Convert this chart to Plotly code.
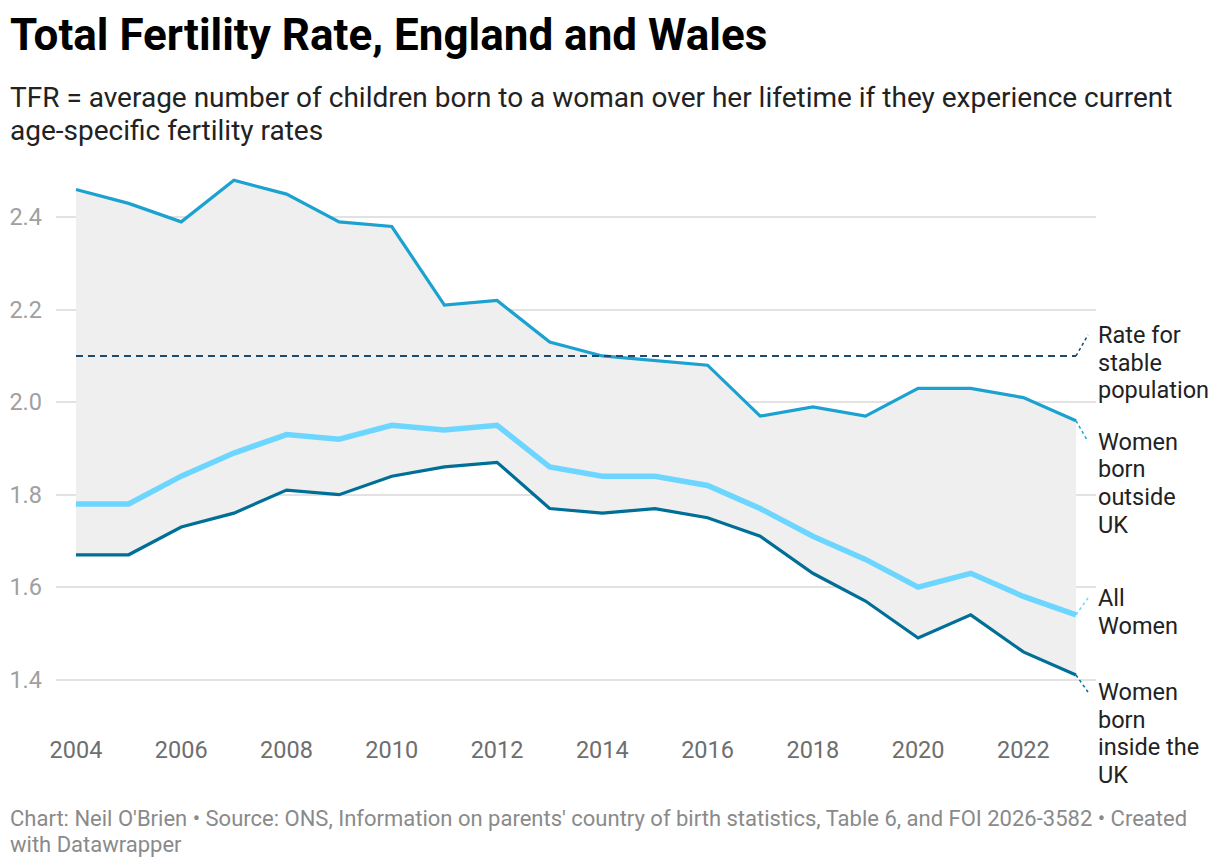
import plotly.graph_objects as go

years = list(range(2004, 2024))
outside_uk = [2.46, 2.43, 2.39, 2.48, 2.45, 2.39, 2.38, 2.21, 2.22, 2.13,
              2.10, 2.09, 2.08, 1.97, 1.99, 1.97, 2.03, 2.03, 2.01, 1.96]
all_women = [1.78, 1.78, 1.84, 1.89, 1.93, 1.92, 1.95, 1.94, 1.95, 1.86,
             1.84, 1.84, 1.82, 1.77, 1.71, 1.66, 1.60, 1.63, 1.58, 1.54]
inside_uk = [1.67, 1.67, 1.73, 1.76, 1.81, 1.80, 1.84, 1.86, 1.87, 1.77,
             1.76, 1.77, 1.75, 1.71, 1.63, 1.57, 1.49, 1.54, 1.46, 1.41]
stable_rate = 2.1
y_ticks = [1.4, 1.6, 1.8, 2.0, 2.2, 2.4]
x_ticks = [2004, 2006, 2008, 2010, 2012, 2014, 2016, 2018, 2020, 2022]

title_text = "<b>Total Fertility Rate, England and Wales</b>"
subtitle_lines = ["TFR = average number of children born to a woman over her lifetime if they experience current",
                  "age-specific fertility rates"]
footer_lines = ["Chart: Neil O'Brien \u2022 Source: ONS, Information on parents' country of birth statistics, Table 6, and FOI 2026-3582 \u2022 Created",
                "with Datawrapper"]

C_OUT = "#1ba2d0"
C_ALL = "#6dd6ff"
C_IN = "#006f98"
C_RATE = "#1c4a70"
FONT = "Roboto"

OFF_X, OFF_Y = 8, 8  # page offsets
W, H = 1212, 860
ML, MR, MT, MB = 48, 124, 163, 156
YR = [1.33, 2.5]
plot_h = H - MT - MB

def py(win_px):
    # convert a window pixel y to paper coords
    return 1 + (MT - (win_px - OFF_Y)) / plot_h

X_TEXT = 8 - OFF_X - ML  # xshift so text starts at window x~12

fig = go.Figure()

# grey band between outside and inside
fig.add_trace(go.Scatter(x=years, y=inside_uk, mode="lines",
                         line=dict(width=0, color="rgba(0,0,0,0)"),
                         hoverinfo="skip", showlegend=False))
fig.add_trace(go.Scatter(x=years, y=outside_uk, mode="lines",
                         line=dict(width=0, color="rgba(0,0,0,0)"),
                         fill="tonexty", fillcolor="#efefef",
                         hoverinfo="skip", showlegend=False))

fig.add_trace(go.Scatter(x=years, y=inside_uk, mode="lines",
                         line=dict(color=C_IN, width=3.2), name="Women born inside the UK"))
fig.add_trace(go.Scatter(x=years, y=all_women, mode="lines",
                         line=dict(color=C_ALL, width=5.5), name="All Women"))
fig.add_trace(go.Scatter(x=years, y=outside_uk, mode="lines",
                         line=dict(color=C_OUT, width=3.2), name="Women born outside UK"))
fig.add_trace(go.Scatter(x=[years[0], years[-1]], y=[stable_rate, stable_rate], mode="lines",
                         line=dict(color=C_RATE, width=2, dash="7px,5px"),
                         name="Rate for stable population"))

# connectors + labels (label lines, end value, colour, connector rise in px)
labels = [
    (["Rate for", "stable", "population"], stable_rate, C_RATE, 21),
    (["Women", "born", "outside", "UK"], outside_uk[-1], C_OUT, -21),
    (["All", "Women"], all_women[-1], C_ALL, 17),
    (["Women", "born", "inside the", "UK"], inside_uk[-1], C_IN, -17),
]
LINE_SP = 27.7
shapes = []
annotations = []
for lines, val, col, dy in labels:
    shapes.append(dict(type="line", xref="x", yref="y",
                       xsizemode="pixel", ysizemode="pixel",
                       xanchor=years[-1], yanchor=val,
                       x0=0, x1=12, y0=0, y1=dy,
                       line=dict(color=col, width=1.5, dash="dot")))
    for i, ln in enumerate(lines):
        annotations.append(dict(x=years[-1], y=val, xref="x", yref="y",
                                text=ln, showarrow=False, xanchor="left", yanchor="middle",
                                xshift=20, yshift=dy - i * LINE_SP, align="left",
                                font=dict(family=FONT, size=23.5, color="#222222")))

# title, subtitle, footer
annotations.append(dict(x=0, y=py(35), xref="paper", yref="paper",
                        xanchor="left", yanchor="middle", xshift=X_TEXT,
                        text=title_text, showarrow=False, align="left",
                        font=dict(family=FONT, size=44, color="#000000")))
for i, ln in enumerate(subtitle_lines):
    annotations.append(dict(x=0, y=py(97 + i * 34), xref="paper", yref="paper",
                            xanchor="left", yanchor="middle", xshift=X_TEXT,
                            text=ln, showarrow=False, align="left",
                            font=dict(family=FONT, size=28, color="#222222")))
for i, ln in enumerate(footer_lines):
    annotations.append(dict(x=0, y=py(818 + i * 26), xref="paper", yref="paper",
                            xanchor="left", yanchor="middle", xshift=X_TEXT,
                            text=ln, showarrow=False, align="left",
                            font=dict(family=FONT, size=22, color="#8a8a8a")))

fig.update_layout(
    width=W, height=H,
    margin=dict(l=ML, r=MR, t=MT, b=MB, autoexpand=False),
    plot_bgcolor="white", paper_bgcolor="white",
    shapes=shapes, annotations=annotations,
    showlegend=False,
    font=dict(family=FONT),
)
fig.update_xaxes(range=[2003.62, 2023.38], tickvals=x_ticks, ticktext=[str(t) for t in x_ticks],
                 showgrid=False, zeroline=False, showline=False, ticks="", automargin=False,
                 tickfont=dict(family=FONT, size=23.5, color="#6e6e6e"), ticklabelstandoff=21)
fig.update_yaxes(range=YR, tickvals=y_ticks, ticktext=[f"{t:.1f}" for t in y_ticks],
                 showgrid=True, gridcolor="#e2e2e2", gridwidth=1.5, zeroline=False,
                 showline=False, ticks="", automargin=False,
                 tickfont=dict(family=FONT, size=23.5, color="#a0a0a0"), ticklabelstandoff=13)

fig.write_html("out.html")
